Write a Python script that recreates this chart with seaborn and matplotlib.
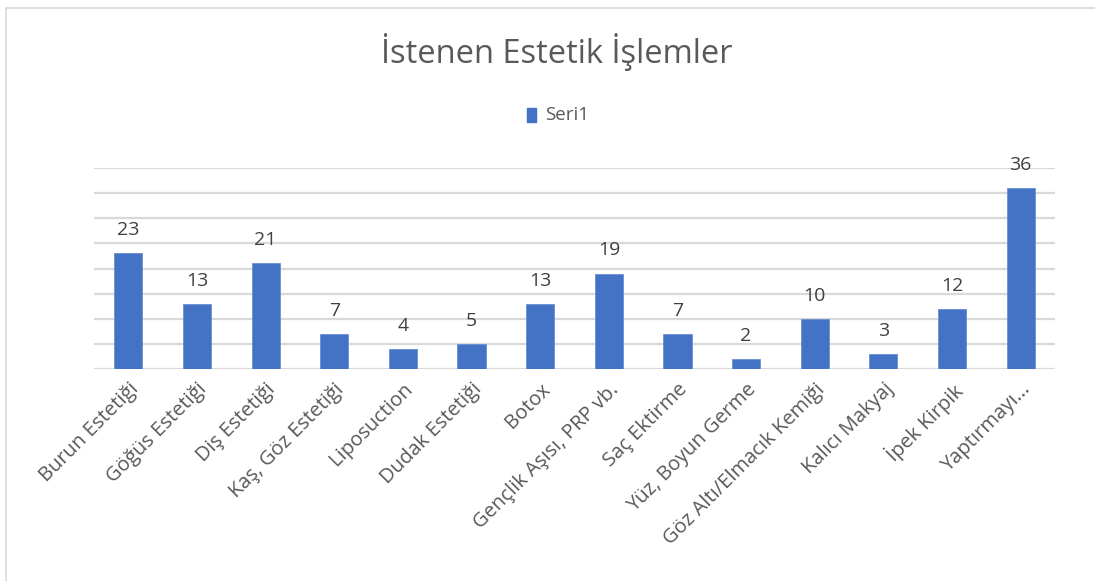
import matplotlib
matplotlib.use("Agg")
import matplotlib.pyplot as plt
import seaborn as sns
import pandas as pd

# data
categories = ["Burun Estetiği", "Göğüs Estetiği", "Diş Estetiği", "Kaş, Göz Estetiği",
              "Liposuction", "Dudak Estetiği", "Botox", "Gençlik Aşısı, PRP vb.",
              "Saç Ektirme", "Yüz, Boyun Germe", "Göz Altı/Elmacık Kemiği",
              "Kalıcı Makyaj", "İpek Kirpik", "Yaptırmayı..."]
values = [23, 13, 21, 7, 4, 5, 13, 19, 7, 2, 10, 3, 12, 36]
series_name = "Seri1"
title = "İstenen Estetik İşlemler"

df = pd.DataFrame({"islem": categories, "adet": values, "seri": series_name})

sns.set_style("white")
plt.rcParams["font.family"] = ["Open Sans", "DejaVu Sans"]

bar_color = "#4472C4"
fig = plt.figure(figsize=(10.95, 5.81), dpi=100)
ax = fig.add_axes([94 / 1095, 212 / 581, 961 / 1095, 201 / 581])

sns.barplot(data=df, x="islem", y="adet", hue="seri", palette=[bar_color],
            saturation=1, width=0.41, ax=ax, legend=False,
            edgecolor="#6a8fd6", linewidth=0.6, zorder=3)

ax.set_ylim(0, 40)
ax.set_yticks(range(0, 41, 5))
ax.yaxis.grid(True, color="#d9d9d9", linewidth=1.6, zorder=0)
ax.set_axisbelow(True)
ax.tick_params(axis="y", left=False, labelleft=False)
ax.tick_params(axis="x", bottom=False, pad=4)
for s in ax.spines.values():
    s.set_visible(False)
ax.set_xlabel("")
ax.set_ylabel("")
ax.set_xticks(range(len(categories)))
ax.set_xticklabels(categories, rotation=45, ha="right", rotation_mode="anchor",
                   fontsize=14.5, color="#595959")

# value labels
for i, v in enumerate(values):
    ax.text(i, v + 2.8, str(v), ha="center", va="bottom", fontsize=14,
            color="#404040", family=["Open Sans", "DejaVu Sans"])

fig.text(557 / 1095, 1 - 52 / 581, title, ha="center", va="center",
         fontsize=23.5, color="#595959", family=["Open Sans", "DejaVu Sans"])

# legend
fig.patches.append(plt.Rectangle((527 / 1095, 1 - 122 / 581), 9 / 1095, 14 / 581,
                                 transform=fig.transFigure, color=bar_color))
fig.text(545 / 1095, 1 - 115 / 581, series_name, ha="left", va="center",
         fontsize=13.5, color="#595959")

# chart frame
fig.add_artist(plt.Line2D([6 / 1095, 6 / 1095], [0, 1 - 8 / 581],
                          transform=fig.transFigure, color="#d9d9d9", linewidth=1.2))
fig.add_artist(plt.Line2D([6 / 1095, 1], [1 - 8 / 581, 1 - 8 / 581],
                          transform=fig.transFigure, color="#d9d9d9", linewidth=1.2))

fig.savefig("out.png", dpi=100)
